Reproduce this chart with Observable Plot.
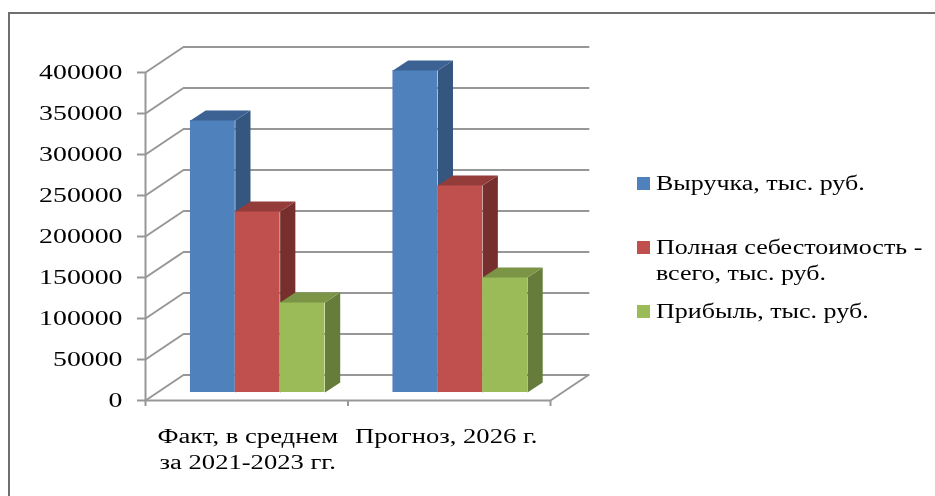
<!DOCTYPE html>
<html>
<head>
<meta charset="utf-8">
<script src="https://cdn.jsdelivr.net/npm/d3@7"></script>
<script src="https://cdn.jsdelivr.net/npm/@observablehq/plot@0.6"></script>
<style>
html,body{margin:0;padding:0;background:#fff;overflow:hidden;width:935px;height:496px}
#wrap{position:relative;width:935px;height:496px;font-family:"Liberation Serif",serif;color:#000;filter:blur(0.3px)}
#frame{position:absolute;left:8px;top:12px;right:-4px;bottom:-4px;border:2px solid #6f6f6f;pointer-events:none}
#chart{position:absolute;left:0;top:0}
.lg{position:absolute;left:637px;white-space:nowrap;font-size:20px;line-height:26px}
.lg i{position:absolute;left:0;width:13px;height:13px}
.lg span{position:absolute;left:19px;top:0;transform-origin:0 0;transform:scaleX(1.3);display:block}
</style>
</head>
<body>
<div id="wrap"><div id="chart"></div><div id="frame"></div><div id="legend"></div></div>
<script>
const categories = ["Факт, в среднем\nза 2021-2023 гг.", "Прогноз, 2026 г."];
const revenue = [331700, 392700];
const cost = [220700, 252400];
const profit = [109750, 140200];
const yTicks = [0, 50000, 100000, 150000, 200000, 250000, 300000, 350000, 400000];
const seriesNames = ["Выручка, тыс. руб.", "Полная себестоимость -\nвсего, тыс. руб.", "Прибыль, тыс. руб."];
const seriesValues = [revenue, cost, profit];
const faceColors = [
  {front: "#4f81bd", side: "#35577f", top: "#3b6292"},
  {front: "#c0504d", side: "#772f2d", top: "#943c3a"},
  {front: "#9bbb59", side: "#667c3a", top: "#7b9446"}
];

// depth of the 3D box, in data units of the two scales
const wallDx = 0.1877, wallDy = 31100;
const barDx = 0.075, barDy = 12200, barBase = 9750;
const barStart = 0.222, barWidth = 0.2215;
const labelAt = [0.505, 1.485];

const gridLines = yTicks.flatMap(t => [
  {id: t, x: 0, y: t},
  {id: t, x: wallDx, y: t + wallDy},
  {id: t, x: 2 + wallDx, y: t + wallDy}
]);
const floorEnd = [{x: 2, y: 0}, {x: 2 + wallDx, y: wallDy}];

const barMarks = seriesValues.flatMap((vals, s) => {
  const boxes = vals.map((v, c) => {
    const x1 = c + barStart + s * barWidth, x2 = x1 + barWidth;
    return {id: c, x1, x2, y1: barBase, y2: barBase + v};
  });
  const side = boxes.flatMap(b => [
    {id: b.id, x: b.x2, y: b.y1}, {id: b.id, x: b.x2 + barDx, y: b.y1 + barDy},
    {id: b.id, x: b.x2 + barDx, y: b.y2 + barDy}, {id: b.id, x: b.x2, y: b.y2}
  ]);
  const top = boxes.flatMap(b => [
    {id: b.id, x: b.x1, y: b.y2}, {id: b.id, x: b.x2, y: b.y2},
    {id: b.id, x: b.x2 + barDx, y: b.y2 + barDy}, {id: b.id, x: b.x1 + barDx, y: b.y2 + barDy}
  ]);
  const col = faceColors[s];
  return [
    Plot.rect(boxes, {x1: "x1", x2: "x2", y1: "y1", y2: "y2", fill: col.front}),
    Plot.line(side, {x: "x", y: "y", z: "id", fill: col.side, stroke: "none"}),
    Plot.line(top, {x: "x", y: "y", z: "id", fill: col.top, stroke: "none"})
  ];
});

const gray = "#979797";
const plot = Plot.plot({
  width: 935, height: 496,
  marginLeft: 145, marginRight: 385, marginTop: 72, marginBottom: 96,
  x: {domain: [0, 2], axis: null},
  y: {domain: [0, 400000], axis: null},
  style: {fontFamily: "'Liberation Serif', serif", fontSize: "20px", background: "transparent", color: "#000"},
  marks: [
    Plot.line(gridLines, {x: "x", y: "y", z: "id", stroke: gray, strokeWidth: 2}),
    Plot.line(floorEnd, {x: "x", y: "y", stroke: gray, strokeWidth: 2}),
    Plot.ruleX([0], {stroke: gray, strokeWidth: 2}),
    Plot.ruleY([0], {stroke: gray, strokeWidth: 2}),
    Plot.axisY({ticks: yTicks, tickSize: 8, tickPadding: 15, tickFormat: d => String(d), stroke: gray, strokeWidth: 2, fill: "#000", fontSize: 20, label: null}),
    Plot.axisX({ticks: [0, 1, 2], tickSize: 6, tickPadding: 0, tickFormat: () => "", stroke: gray, strokeWidth: 2, label: null}),
    Plot.axisX({ticks: labelAt, tickSize: 0, tickPadding: 24, tickFormat: i => categories[Math.floor(i)], fill: "#000", fontSize: 20, lineHeight: 1.3, label: null}),
    ...barMarks
  ]
});
document.getElementById("chart").append(plot);

// horizontally stretched glyphs, as in the picture
plot.querySelectorAll("text").forEach(t => {
  const spans = t.querySelectorAll("tspan");
  const isNumber = /^\d+$/.test(t.textContent);
  const stretch = isNumber ? 1.39 : 1.33;
  (spans.length ? [...spans] : [t]).forEach(el => {
    const len = el.getComputedTextLength();
    if (len > 0) {
      el.setAttribute("textLength", len * stretch);
      el.setAttribute("lengthAdjust", "spacingAndGlyphs");
    }
  });
});

const legendTops = [170, 234, 298];
const legend = document.getElementById("legend");
seriesNames.forEach((name, i) => {
  const d = document.createElement("div");
  d.className = "lg";
  d.style.top = legendTops[i] + "px";
  const sw = document.createElement("i");
  sw.style.background = faceColors[i].front;
  sw.style.top = "7px";
  const sp = document.createElement("span");
  sp.innerHTML = name.replace("\n", "<br>");
  d.append(sw, sp);
  legend.append(d);
});
</script>
</body>
</html>
